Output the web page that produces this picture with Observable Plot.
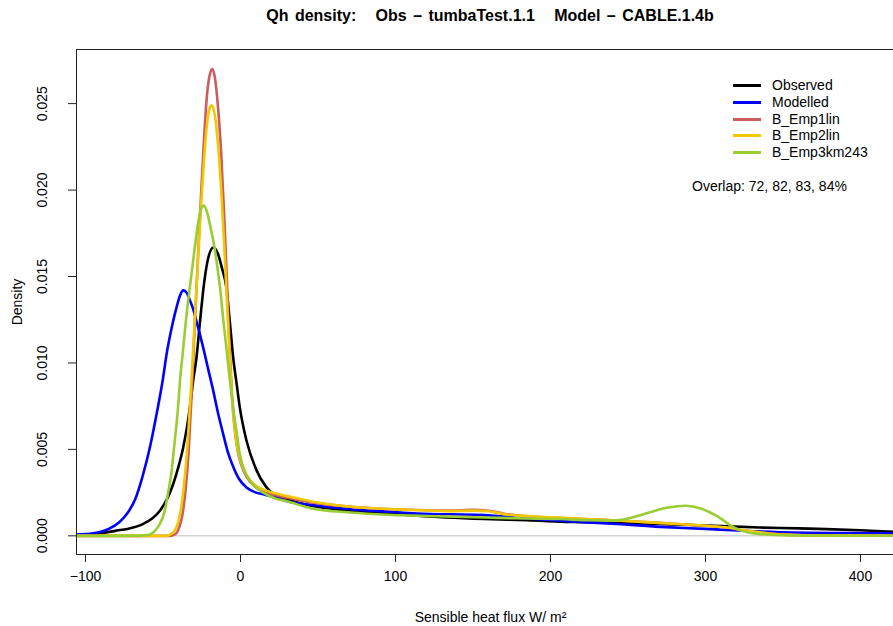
<!DOCTYPE html>
<html>
<head>
<meta charset="utf-8">
<script src="https://cdn.jsdelivr.net/npm/d3@7"></script>
<script src="https://cdn.jsdelivr.net/npm/@observablehq/plot@0.6"></script>
<style>
  html, body { margin: 0; padding: 0; background: #fff; }
  #wrap { position: relative; width: 893px; height: 626px; overflow: hidden; font-family: "Liberation Sans", Arial, Helvetica, sans-serif; color: #000; }
  #title { position: absolute; left: 90px; width: 800px; top: 6px; text-align: center; font-weight: bold; font-size: 16px; word-spacing: 2px; white-space: pre; line-height: 20px; }
  #legend { position: absolute; left: 733px; top: 77.4px; font-size: 14px; }
  #legend .row { height: 16.7px; line-height: 16.7px; white-space: nowrap; }
  #legend .sw { display: inline-block; width: 28px; height: 3px; vertical-align: middle; margin-right: 11px; position: relative; top: -1px; }
  #overlap { position: absolute; left: 692px; top: 177px; font-size: 14px; line-height: 18px; white-space: nowrap; }
  #chart { position: absolute; left: 0; top: 0; }
</style>
</head>
<body>
<div id="wrap">
  <div id="chart"></div>
  <div id="title"></div>
  <div id="legend"></div>
  <div id="overlap"></div>
</div>
<script>
// ---- Data ----
const titleText = "Qh density:   Obs \u2013 tumbaTest.1.1   Model \u2013 CABLE.1.4b";
const xLabel = "Sensible heat flux W/ m\u00B2";
const yLabel = "Density";
const overlapText = "Overlap: 72, 82, 83, 84%";

const seriesNames = ["Observed", "Modelled", "B_Emp1lin", "B_Emp2lin", "B_Emp3km243"];
const seriesColors = ["#000000", "#0000FF", "#CD5C5C", "#F2C800", "#9ACD32"];

const xTicks = [-100, 0, 100, 200, 300, 400];
const yTicks = [0, 0.005, 0.010, 0.015, 0.020, 0.025];
const xDomain = [-105.8, 421.3];
const yDomain = [-0.00108, 0.02813];

const obsX = [-106, -90, -80, -73, -63, -57, -52, -47, -43.4, -40, -37, -34.5, -32.7, -30.5, -28.4, -26, -23.5, -21, -17.5, -14.5, -12, -9, -7, -4.7, -2.5, -0.4, 3.9, 10.3, 16.8, 23.2, 30, 45, 71, 95, 114, 157, 185, 213, 240, 271, 300, 335, 360, 378, 400, 425];
const obsY = [0.00003, 0.00015, 0.0003, 0.0004, 0.00068, 0.001, 0.00145, 0.0022, 0.003, 0.004, 0.0051, 0.0063, 0.0074, 0.009, 0.0103, 0.0125, 0.0146, 0.016, 0.01668, 0.0163, 0.0155, 0.0143, 0.0125, 0.0103, 0.0088, 0.0074, 0.0055, 0.0038, 0.0028, 0.0023, 0.0021, 0.00175, 0.00145, 0.0013, 0.00116, 0.00097, 0.0009, 0.0008, 0.00075, 0.00068, 0.0006, 0.00048, 0.00043, 0.00039, 0.00032, 0.00022];

const modX = [-106, -95, -85, -78, -73, -68, -63, -58, -54, -50, -47.7, -44, -41.3, -39, -37, -35, -32.5, -30.5, -27.5, -24.1, -21, -17.6, -14.5, -11.2, -8, -4.7, -1, 3.9, 10, 14.6, 23.2, 30, 45, 71, 95, 114, 157, 185, 213, 240, 271, 300, 325, 357, 390, 425];
const modY = [0.00008, 0.00015, 0.0004, 0.0008, 0.0013, 0.0021, 0.0035, 0.0053, 0.0071, 0.0091, 0.0105, 0.0122, 0.0132, 0.0139, 0.0142, 0.0141, 0.0136, 0.0131, 0.0121, 0.0109, 0.0097, 0.0084, 0.0071, 0.0059, 0.0048, 0.004, 0.0033, 0.0028, 0.0025, 0.0024, 0.0022, 0.002, 0.0018, 0.00154, 0.0014, 0.00129, 0.0012, 0.001, 0.00083, 0.0007, 0.00052, 0.0004, 0.00029, 0.00019, 0.00016, 0.00014];

const emp1X = [-106, -46, -42, -39.5, -37.5, -35.5, -33.5, -31.5, -29.5, -27.5, -25.5, -23.5, -21.5, -20, -18.2, -16.5, -14.5, -12.5, -10.5, -8.5, -7, -5.5, -4, -2, 0.5, 4, 10, 17, 25, 30, 45, 71, 95, 114, 135, 150, 160, 170, 190, 213, 240, 270, 282, 300, 314, 325, 335, 345, 357, 375, 425];
const emp1Y = [0, 0, 0.0001, 0.0005, 0.0012, 0.0026, 0.0048, 0.0082, 0.0122, 0.016, 0.0196, 0.023, 0.0256, 0.0266, 0.027, 0.0265, 0.0248, 0.0222, 0.0185, 0.0142, 0.0108, 0.0082, 0.0064, 0.005, 0.0041, 0.0034, 0.0028, 0.0025, 0.0023, 0.0022, 0.00195, 0.00168, 0.00155, 0.00149, 0.00146, 0.0015, 0.00145, 0.00128, 0.0011, 0.001, 0.0009, 0.00075, 0.00068, 0.00058, 0.00048, 0.0003, 0.00019, 0.0001, 0.00005, 0.00001, 0];

const emp2X = [-106, -48, -45, -42.5, -40.5, -38.5, -36.5, -34, -31.5, -29.5, -27.5, -25.5, -23.5, -21.5, -20, -18.5, -16.5, -14.5, -12.5, -10.5, -8.5, -7, -5.5, -4, -2, 0.5, 4, 10, 17, 25, 30, 45, 71, 95, 114, 135, 150, 160, 170, 190, 213, 240, 270, 282, 300, 314, 325, 335, 345, 357, 375, 425];
const emp2Y = [0, 0, 0.0001, 0.0003, 0.0007, 0.0015, 0.0029, 0.0055, 0.0092, 0.0125, 0.0158, 0.019, 0.0218, 0.0239, 0.0247, 0.0249, 0.0243, 0.0226, 0.0201, 0.0168, 0.0131, 0.0104, 0.008, 0.0064, 0.0051, 0.0042, 0.0035, 0.0029, 0.0026, 0.0024, 0.0023, 0.002, 0.00168, 0.00155, 0.00149, 0.00143, 0.00146, 0.00142, 0.00125, 0.00112, 0.00102, 0.0009, 0.00075, 0.00068, 0.00058, 0.00048, 0.00032, 0.0002, 0.0001, 0.00005, 0.00001, 0];

const emp3X = [-106, -70, -62, -58.5, -55, -52, -49, -46.7, -44.5, -42.4, -40.5, -39, -37, -34.8, -32.5, -30, -27.5, -25.5, -23.7, -21.5, -19, -17, -15, -13, -11, -9, -6.5, -4.7, -2.5, -0.4, 3, 6, 10, 14.6, 23, 30, 45, 71, 95, 114, 157, 185, 206, 225, 240, 250, 260, 275, 287, 297, 303, 310, 316, 323, 331, 345, 360, 425];
const emp3Y = [0, 0, 0.00003, 0.00008, 0.0003, 0.0007, 0.0014, 0.0025, 0.0037, 0.0055, 0.0072, 0.009, 0.0108, 0.0128, 0.0145, 0.0163, 0.018, 0.0189, 0.0191, 0.0187, 0.0177, 0.0168, 0.0156, 0.0142, 0.0124, 0.0108, 0.0087, 0.0074, 0.006, 0.0047, 0.0037, 0.0032, 0.0028, 0.0025, 0.00215, 0.002, 0.0016, 0.00135, 0.00122, 0.00116, 0.00106, 0.001, 0.00097, 0.0009, 0.00088, 0.001, 0.00125, 0.00162, 0.00174, 0.00158, 0.00135, 0.001, 0.0006, 0.0003, 0.00014, 0.00005, 0.00002, 0];

// ---- Build table ----
const seriesXs = [obsX, modX, emp1X, emp2X, emp3X];
const seriesYs = [obsY, modY, emp1Y, emp2Y, emp3Y];
const rows = seriesNames.flatMap((name, k) => seriesXs[k].map((x, i) => ({name, x, y: seriesYs[k][i]})));

const fmtX = d => (d < 0 ? "\u2212" + Math.abs(d) : String(d));
const fmtY = d3.format(".3f");

const chart = Plot.plot({
  width: 893,
  height: 626,
  marginLeft: 76,
  marginRight: 0,
  marginTop: 49,
  marginBottom: 72,
  style: {fontFamily: "'Liberation Sans', Arial, Helvetica, sans-serif", fontSize: "14px", background: "white", color: "black", overflow: "hidden"},
  x: {domain: xDomain, axis: null, label: null},
  y: {domain: yDomain, axis: null, label: null},
  color: {domain: seriesNames, range: seriesColors},
  marks: [
    Plot.ruleY([0], {stroke: "#BEBEBE", strokeWidth: 1}),
    Plot.line(rows, {x: "x", y: "y", z: "name", stroke: "name", strokeWidth: 2.6, curve: "monotone-x", clip: true, strokeLinejoin: "round"}),
    Plot.ruleX([xDomain[0]], {stroke: "#222", strokeWidth: 1}),
    Plot.ruleY([yDomain[1]], {stroke: "#222", strokeWidth: 1}),
    Plot.ruleY([yDomain[0]], {stroke: "#222", strokeWidth: 1}),
    Plot.axisX(xTicks, {tickSize: 8, tickPadding: 9, fontSize: 14, tickFormat: fmtX, stroke: "#222", label: null}),
    Plot.axisY(yTicks, {tickSize: 8, tickFormat: () => "", stroke: "#222", label: null}),
    Plot.text(yTicks, {y: d => d, frameAnchor: "left", dx: -34, rotate: -90, text: d => fmtY(d), fontSize: 14, textAnchor: "middle", lineAnchor: "middle"}),
    Plot.text([yLabel], {frameAnchor: "left", dx: -59, rotate: -90, fontSize: 14, textAnchor: "middle", lineAnchor: "middle"}),
    Plot.text([xLabel], {frameAnchor: "bottom", dx: 5.5, dy: 63, fontSize: 14, textAnchor: "middle", lineAnchor: "middle"})
  ]
});
document.getElementById("chart").appendChild(chart);

document.getElementById("title").textContent = titleText;
document.getElementById("overlap").textContent = overlapText;
const legend = d3.select("#legend");
seriesNames.forEach((n, i) => {
  const r = legend.append("div").attr("class", "row");
  r.append("span").attr("class", "sw").style("background", seriesColors[i]);
  r.append("span").text(n);
});
</script>
</body>
</html>
